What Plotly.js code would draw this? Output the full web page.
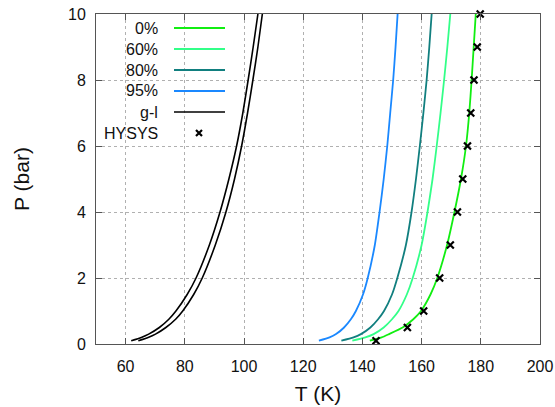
<!DOCTYPE html>
<html>
<head>
<meta charset="utf-8">
<script src="https://cdn.plot.ly/plotly-3.0.1.min.js"></script>
<style>html,body{margin:0;padding:0;background:#fff;}#chart{width:555px;height:407px;}</style>
</head>
<body>
<div id="chart"></div>
<script>
// Pressure levels (bar) at which the curves are read
const pLevels = [0.1, 0.2, 0.3, 0.5, 0.75, 1, 1.5, 2, 3, 4, 5, 6, 7, 8, 9, 10];
// Temperatures (K) of each curve at those pressures
const t0pct  = [142.5, 146.5, 149.0, 153.6, 157.2, 159.8, 163.0, 165.3, 168.6, 171.1, 173.3, 175.0, 176.1, 176.9, 177.6, 178.3];
const t60pct = [136.6, 141.0, 143.8, 147.2, 150.0, 152.2, 155.0, 157.0, 160.0, 162.0, 163.7, 165.1, 166.4, 167.6, 168.7, 169.7];
const t80pct = [132.9, 137.0, 139.5, 142.7, 145.3, 147.3, 150.0, 151.8, 154.7, 156.6, 158.1, 159.4, 160.6, 161.7, 162.6, 163.4];
const t95pct = [125.3, 128.9, 131.1, 133.8, 136.1, 137.8, 140.2, 141.8, 144.2, 145.8, 147.2, 148.4, 149.4, 150.4, 151.2, 151.9];
const tGL1   = [61.9, 65.3, 67.8, 71.4, 74.6, 77.0, 80.8, 83.8, 88.3, 91.9, 94.9, 97.5, 99.6, 101.4, 103.1, 104.7];
const tGL2   = [64.3, 67.6, 70.1, 73.6, 76.9, 79.3, 83.0, 85.9, 90.3, 93.9, 96.8, 99.2, 101.2, 103.0, 104.7, 106.2];
// HYSYS points
const hysysT = [144.6, 155.2, 160.7, 166.1, 169.7, 172.1, 173.9, 175.5, 176.6, 177.7, 178.8, 179.8];
const hysysP = [0.1, 0.5, 1, 2, 3, 4, 5, 6, 7, 8, 9, 10];
const seriesNames = ['0%', '60%', '80%', '95%', 'g-l', 'HYSYS'];
const colors = ['#11ee11', '#33ff88', '#117f7f', '#1a88ff', '#000000', '#000000'];

const lineW = 1.8;
const traces = [
  {x: t0pct,  y: pLevels, name: seriesNames[0], mode: 'lines', line: {color: colors[0], width: lineW, shape: 'spline', smoothing: 0.6}},
  {x: t60pct, y: pLevels, name: seriesNames[1], mode: 'lines', line: {color: colors[1], width: lineW, shape: 'spline', smoothing: 0.6}},
  {x: t80pct, y: pLevels, name: seriesNames[2], mode: 'lines', line: {color: colors[2], width: lineW, shape: 'spline', smoothing: 0.6}},
  {x: t95pct, y: pLevels, name: seriesNames[3], mode: 'lines', line: {color: colors[3], width: lineW, shape: 'spline', smoothing: 0.6}},
  {x: tGL1,   y: pLevels, name: seriesNames[4], mode: 'lines', line: {color: colors[4], width: 1.6, shape: 'spline', smoothing: 0.6}},
  {x: tGL2,   y: pLevels, name: seriesNames[4], mode: 'lines', line: {color: colors[4], width: 1.6, shape: 'spline', smoothing: 0.6}},
  {x: hysysT, y: hysysP, name: seriesNames[5], mode: 'markers', marker: {symbol: 'x-thin', size: 7, color: colors[5], line: {color: colors[5], width: 2.2}}, cliponaxis: false}
];

// gnuplot-style key: label text, then sample on the right
const L = 96, T = 14, W = 444, H = 330;
const px = v => (v - L) / W;
const py = v => (T + H - v) / H;
const keyRows = [28, 49, 70, 91, 112, 133];
const annotations = [];
const shapes = [];
seriesNames.forEach((nm, i) => {
  annotations.push({xref: 'paper', yref: 'paper', x: px(160), y: py(keyRows[i]), xanchor: 'right', yanchor: 'middle',
    text: nm, showarrow: false, font: {family: 'Liberation Sans, Arial, sans-serif', size: 16, color: '#111'}});
  if (i < 5) {
    shapes.push({type: 'line', xref: 'paper', yref: 'paper', x0: px(174), x1: px(225), y0: py(keyRows[i]), y1: py(keyRows[i]),
      line: {color: colors[i], width: i === 4 ? 1.6 : lineW}});
  }
});
const mx = 199, my = keyRows[5], d = 3;
shapes.push({type: 'path', xref: 'paper', yref: 'paper',
  path: `M ${px(mx-d)} ${py(my-d)} L ${px(mx+d)} ${py(my+d)} M ${px(mx-d)} ${py(my+d)} L ${px(mx+d)} ${py(my-d)}`,
  line: {color: '#000', width: 2.2}});

const axisCommon = {
  showline: true, linecolor: '#555', linewidth: 1, mirror: 'allticks',
  ticks: 'inside', ticklen: 6, tickcolor: '#555', tickwidth: 1,
  showgrid: true, gridcolor: '#b0b0b0', griddash: 'dot', gridwidth: 1,
  zeroline: false, tickfont: {family: 'Liberation Sans, Arial, sans-serif', size: 16, color: '#111'}
};

const layout = {
  width: 555, height: 407,
  margin: {l: L, r: 555 - L - W, t: T, b: 407 - T - H},
  paper_bgcolor: '#fff', plot_bgcolor: '#fff',
  showlegend: false,
  font: {family: 'Liberation Sans, Arial, sans-serif', color: '#111'},
  xaxis: Object.assign({}, axisCommon, {range: [50, 200], tick0: 60, dtick: 20, tickmode: 'linear',
    ticklabelstandoff: 8,
    title: {text: 'T (K)', font: {size: 21, color: '#111'}, standoff: 12}}),
  yaxis: Object.assign({}, axisCommon, {range: [0, 10], tick0: 0, dtick: 2, tickmode: 'linear',
    ticklabelstandoff: 6,
    title: {text: 'P (bar)', font: {size: 21, color: '#111'}, standoff: 32}}),
  annotations: annotations,
  shapes: shapes
};

Plotly.newPlot('chart', traces, layout, {staticPlot: true, displayModeBar: false});
</script>
</body>
</html>
